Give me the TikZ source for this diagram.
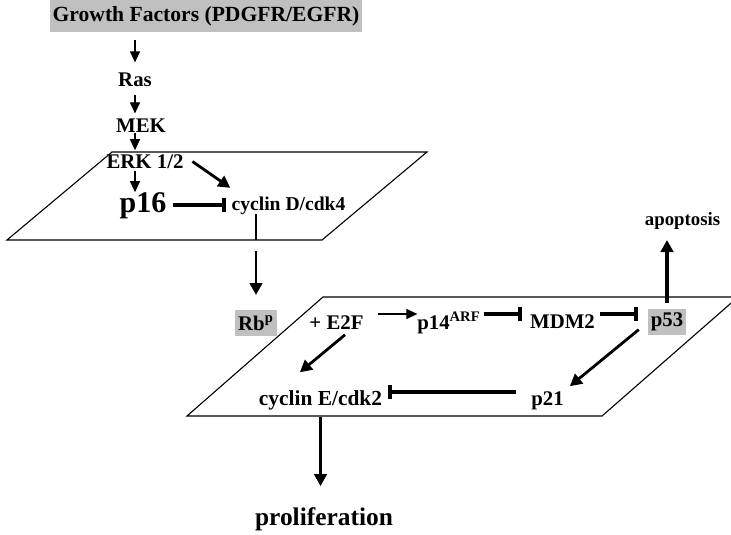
\documentclass[tikz,border=0pt]{standalone}
\usepackage{fontspec}
\setmainfont{Liberation Serif}
\usetikzlibrary{arrows.meta,calc}
\definecolor{ccInk}{HTML}{000000}
\definecolor{ccBoxFill}{HTML}{C0C0C0}
\tikzset{
  % Shared look of the signalling sketch: bold serif labels, two planes,
  % thin arrows for the upstream cascade and heavy arrows/bars inside.
  cc/base/.style={
    font=\rmfamily\bfseries\fontsize{10.4pt}{12pt}\selectfont,
    text=ccInk,
    line cap=butt,
    line join=miter
  },
  cc/label/.style={
    inner sep=0pt,
    outer sep=0pt,
    anchor=base
  },
  cc/box/.style={
    fill=ccBoxFill,
    inner sep=0pt,
    outer sep=0pt
  },
  cc/plane/.style={
    draw=ccInk,
    line width=.55pt
  },
  cc/thin arrow/.style={
    -{Triangle[length=5.5pt,width=5pt]},
    draw=ccInk,
    line width=.6pt
  },
  cc/thick arrow/.style={
    -{Triangle[length=6pt,width=6.2pt]},
    draw=ccInk,
    line width=1.4pt
  },
  cc/thick line/.style={
    draw=ccInk,
    line width=1.4pt
  },
  cc/inhibit/.style={
    -{Bar[width=7pt]},
    draw=ccInk,
    line width=2pt
  }
}
\begin{document}
\begin{tikzpicture}[cc/base,x=.5pt,y=-.5pt]
  \useasboundingbox (0,0) rectangle (731,534);

  % the two planes (G1 checkpoint above, E2F/p53 loop below)
  \coordinate (topPlaneNW) at (112,152);
  \coordinate (topPlaneNE) at (427,152);
  \coordinate (topPlaneSE) at (322,240);
  \coordinate (topPlaneSW) at (7,240);
  \draw[cc/plane] (topPlaneNW)--(topPlaneNE)--(topPlaneSE)--(topPlaneSW)--cycle;
  \coordinate (lowPlaneNW) at (323,297);
  \coordinate (lowPlaneNE) at (738,297);
  \coordinate (lowPlaneSE) at (602,416);
  \coordinate (lowPlaneSW) at (187,416);
  \draw[cc/plane] (lowPlaneNW)--(lowPlaneNE)--(lowPlaneSE)--(lowPlaneSW)--cycle;

  % upstream cascade
  \node[cc/box,minimum width=156pt,minimum height=16pt,
    font=\rmfamily\bfseries\fontsize{10.8pt}{12pt}\selectfont]
    (growth) at (206,16) {Growth Factors (PDGFR/EGFR)};
  \node[cc/label] (ras) at (135,87) {Ras};
  \node[cc/label] (mek) at (141,133) {MEK};
  \node[cc/label] (erk) at (145,169) {ERK 1/2};
  \node[cc/label,font=\rmfamily\bfseries\fontsize{15pt}{17pt}\selectfont]
    (p16) at (143,212) {p16};
  \node[cc/label,font=\rmfamily\bfseries\fontsize{9.8pt}{11pt}\selectfont]
    (cyclinD) at (288.5,210) {cyclin D/cdk4};
  \coordinate (cascadeAxis) at (135,0);

  % lower loop
  \node[cc/box,minimum width=21pt,minimum height=13pt] (rb) at (256,323)
    {Rb\textsuperscript{p}};
  \node[cc/label] (e2f) at (336.5,329) {+ E2F};
  \node[cc/label] (p14) at (449,329) {p14\textsuperscript{ARF}};
  \node[cc/label] (mdm2) at (562.5,328) {MDM2};
  \node[cc/box,minimum width=19pt,minimum height=13pt] (p53) at (667,322) {p53};
  \node[cc/label,font=\rmfamily\bfseries\fontsize{9.4pt}{11pt}\selectfont]
    (apoptosis) at (682.5,225) {apoptosis};
  \node[cc/label,font=\rmfamily\bfseries\fontsize{10.7pt}{12pt}\selectfont]
    (cyclinE) at (320.5,405) {cyclin E/cdk2};
  \node[cc/label] (p21) at (547.5,405) {p21};
  \node[cc/label,font=\rmfamily\bfseries\fontsize{12.7pt}{14pt}\selectfont]
    (proliferation) at (324,525) {proliferation};
  \coordinate (loopRow) at (0,314);
  \coordinate (returnRow) at (0,392);

  % connectors of the cascade
  \draw[cc/thin arrow,shorten <=4pt,shorten >=5.5pt]
    (growth.south -| cascadeAxis)--(ras.north -| cascadeAxis);
  \draw[cc/thin arrow,shorten <=4pt,shorten >=3pt]
    (ras.south -| cascadeAxis)--(mek.north -| cascadeAxis);
  \draw[cc/thin arrow,shorten >=2.5pt]
    (mek.south -| cascadeAxis)--(erk.north -| cascadeAxis);
  \draw[cc/thin arrow,shorten <=1pt]
    (erk.south -| cascadeAxis)--(p16.north -| cascadeAxis);
  \draw[cc/thick arrow,shorten <=5.5pt,shorten >=7.5pt]
    (erk.north east)--(cyclinD.169);
  \draw[cc/inhibit,shorten <=3.5pt,shorten >=3pt]
    (p16.east)--(p16.east -| cyclinD.west);
  \draw[cc/thick line] (cyclinD.south -| rb)--(rb |- topPlaneSW);
  \draw[cc/thick arrow,shorten <=5.5pt,shorten >=7.5pt]
    (rb |- topPlaneSW)--(rb.north);

  % connectors of the loop
  \draw[cc/thin arrow,shorten <=7pt]
    (e2f.east |- loopRow)--(p14.west |- loopRow);
  \draw[cc/inhibit,shorten <=1.5pt,shorten >=4pt]
    (p14.east |- loopRow)--(mdm2.west |- loopRow);
  \draw[cc/inhibit,shorten <=2.5pt,shorten >=5pt]
    (mdm2.east |- loopRow)--(p53.west |- loopRow);
  \draw[cc/thick arrow,line width=2pt,shorten <=3pt,shorten >=5.5pt]
    (p53.north)--(p53.north |- apoptosis.south);
  \draw[cc/thick arrow,shorten <=6pt,shorten >=4pt]
    (p53.west)--(p21.north east);
  \draw[cc/thick arrow,shorten <=4.5pt,shorten >=14pt]
    (e2f.-24)--(cyclinE.167);
  \draw[cc/inhibit,shorten <=7.5pt]
    (p21.west |- returnRow)--($(cyclinE.east |- returnRow)+(6,0)$);
  \draw[cc/thick arrow,shorten <=3.5pt,shorten >=10.5pt]
    (cyclinE.south)--(cyclinE.south |- proliferation.north);
\end{tikzpicture}
\end{document}
